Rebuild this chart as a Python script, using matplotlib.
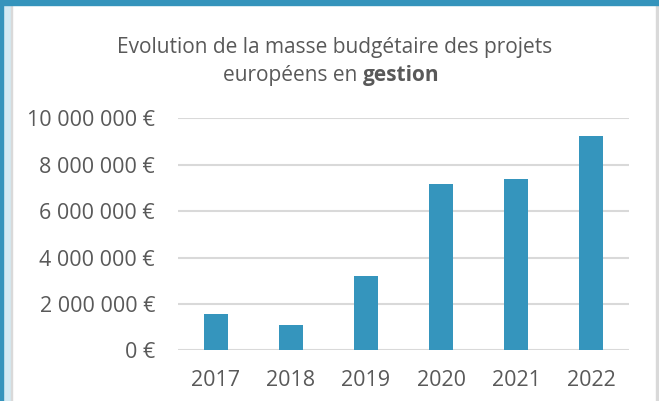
import matplotlib
matplotlib.use("Agg")
import matplotlib.pyplot as plt
from matplotlib.patches import Rectangle
from matplotlib.ticker import FuncFormatter

years = ["2017", "2018", "2019", "2020", "2021", "2022"]
values = [1550000, 1100000, 3220000, 7160000, 7380000, 9250000]
yticks = [0, 2000000, 4000000, 6000000, 8000000, 10000000]

W, H = 659, 401
fig = plt.figure(figsize=(W / 100, H / 100), dpi=100)
plt.rcParams['font.family'] = ['Open Sans', 'DejaVu Sans']

# frame decorations
fig.patches.append(Rectangle((0, 0), 10 / W, 1, transform=fig.transFigure, color="#D3EAF3", zorder=0))
fig.patches.append(Rectangle((0, 0), 2.5 / W, 1, transform=fig.transFigure, color="#3594BC", zorder=1))
fig.patches.append(Rectangle((10.5 / W, 0), 1.5 / W, 1, transform=fig.transFigure, color="#D9D9D9", zorder=1))
fig.patches.append(Rectangle((0, 1 - 5 / H), 1, 5 / H, transform=fig.transFigure, color="#3594BC", zorder=2))
fig.patches.append(Rectangle((656 / W, 0), 1.5 / W, 1 - 5 / H, transform=fig.transFigure, color="#D9D9D9", zorder=1))

ax = fig.add_axes([178 / W, 1 - 350.3 / H, (629 - 178) / W, (350.3 - 118.3) / H])
x = list(range(len(years)))
ax.bar(x, values, width=0.32, color="#3595BD", zorder=3)
ax.set_xlim(-0.5, len(years) - 0.5)
ax.set_ylim(0, 10000000)
ax.set_yticks(yticks)
ax.yaxis.set_major_formatter(FuncFormatter(lambda v, p: (f"{int(v):,}".replace(",", " ") + " €")))
ax.set_xticks(x)
ax.set_xticklabels(years)
ax.grid(axis="y", color="#D9D9D9", linewidth=1.5, zorder=0)
ax.set_axisbelow(True)
for s in ax.spines.values():
    s.set_visible(False)
ax.tick_params(length=0, labelsize=15.5, colors="#595959")
ax.tick_params(axis="y", pad=16.5)
ax.tick_params(axis="x", pad=14)

fs = 15
col = "#595959"
fig.text(335 / W, 1 - 47 / H, "Evolution de la masse budgétaire des projets", ha="center", va="center",
         fontsize=fs, color=col)
t1 = fig.text(0, 1 - 75 / H, "européens en ", ha="left", va="center", fontsize=fs, color=col)
t2 = fig.text(0, 1 - 75 / H, "gestion", ha="left", va="center", fontsize=fs, color=col, fontweight="bold")
r = fig.canvas.get_renderer()
w1 = t1.get_window_extent(r).width
w2 = t2.get_window_extent(r).width
x0 = 331 - (w1 + w2) / 2
t1.set_x(x0 / W)
t2.set_x((x0 + w1) / W)

fig.savefig("out.png", dpi=100)
